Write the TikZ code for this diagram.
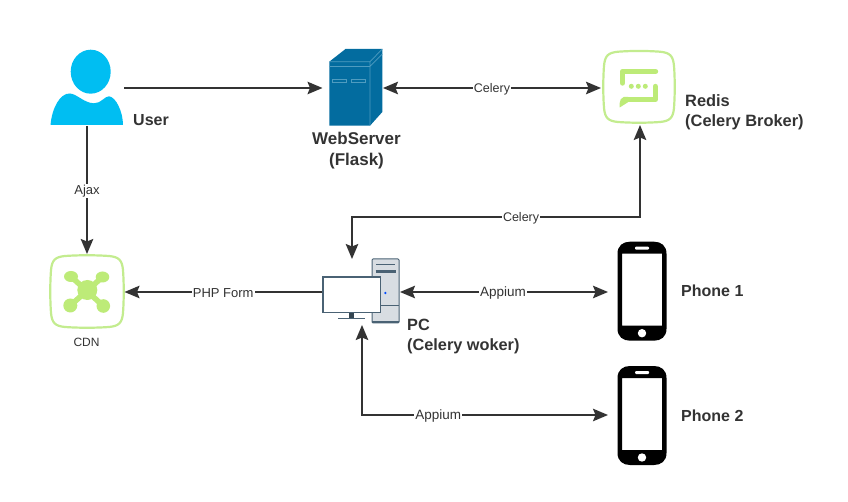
\documentclass[tikz,border=0pt]{standalone}
\usepackage{fontspec}
\setmainfont{Liberation Sans}
\usetikzlibrary{arrows.meta}
\definecolor{ink}{HTML}{333333}
\definecolor{lime}{HTML}{C3EC8F}
\definecolor{limeicon}{HTML}{BDEB78}
\definecolor{userblue}{HTML}{00BEF2}
\definecolor{srv}{HTML}{036C9F}
\definecolor{srvl}{HTML}{4F9CC0}
\definecolor{pcline}{HTML}{4A6274}
\definecolor{pcfill}{HTML}{D8DDE2}
\tikzset{
  x=1pt,y=-1pt,
  slot/.style={inner sep=0pt,outer sep=0pt,minimum width=#1},
  flow/.style={draw=ink,line width=1.8pt,-{Stealth[length=15pt,width=12.5pt,inset=2.5pt]}},
  bothflow/.style={draw=ink,line width=1.8pt,{Stealth[length=15pt,width=12.5pt,inset=2.5pt]}-{Stealth[length=15pt,width=12.5pt,inset=2.5pt]}},
  tag/.style={fill=white,inner sep=1pt,font=\fontsize{13}{15}\selectfont,text=ink,yshift=-1pt},
  big/.style={font=\bfseries\fontsize{16}{20}\selectfont,text=ink,align=left,inner sep=0pt},
  squircle/.style={draw=lime,line width=2.2pt,fill=white}
}
\newcommand{\squirc}[4]{% x0 y0 x1 y1
  \path[squircle] (#1+14,#2) .. controls (#1+28,#2-1) and (#3-28,#2-1) .. (#3-14,#2)
    .. controls (#3-4,#2+1) and (#3-1,#2+4) .. (#3,#2+14)
    .. controls (#3+1,#2+28) and (#3+1,#4-28) .. (#3,#4-14)
    .. controls (#3-1,#4-4) and (#3-4,#4-1) .. (#3-14,#4)
    .. controls (#3-28,#4+1) and (#1+28,#4+1) .. (#1+14,#4)
    .. controls (#1+4,#4-1) and (#1+1,#4-4) .. (#1,#4-14)
    .. controls (#1-1,#4-28) and (#1-1,#2+28) .. (#1,#2+14)
    .. controls (#1+1,#2+4) and (#1+4,#2+1) .. (#1+14,#2) -- cycle;}
\newcommand{\phoneicon}[1]{% #1 top y
  \begin{scope}[yshift=-#1pt]
  \fill[black,even odd rule] (617.5,12) .. controls (617.5,4) and (623,0) .. (630,0) -- (654,0)
     .. controls (661,0) and (666.5,4) .. (666.5,12) -- (666.5,87) .. controls (666.5,95) and (661,99) .. (654,99)
     -- (630,99) .. controls (623,99) and (617.5,95) .. (617.5,87) -- cycle
     (622,12) rectangle (662,84);
  \fill[white] (642,91.5) circle (4.2);
  \fill[white,rounded corners=1pt] (635,5) rectangle (649,8);
  \end{scope}}
\begin{document}
\begin{tikzpicture}
\useasboundingbox (0,0) rectangle (848,502);
% --- icons
\fill[userblue] (90.7,71.7) ellipse [x radius=20,y radius=22];
\fill[userblue] (50.5,125) .. controls (52,108) and (60,93) .. (70,93.5)
  .. controls (77,94) and (84,103) .. (94,103.3)
  .. controls (101,103.5) and (105,96) .. (109,96.3)
  .. controls (116,97) and (123,112) .. (123,125) -- cycle;
% server
\fill[srv] (329.3,61.7) -- (345.5,49) -- (382.3,49) -- (382.3,112) -- (370,125.7) -- (329.3,125.7) -- cycle;
\draw[srvl,line width=.7pt] (329.3,61.7) -- (370,61.7) -- (382.3,49) (370,61.7) -- (370,125.7)
  (329.3,66.5) -- (370,66.5) -- (382.3,54)
  (332.5,79.5) rectangle (346.5,82.5) (351.5,79.5) rectangle (365.5,82.5);
% redis
\squirc{604}{51.7}{674}{122}
\draw[limeicon,line width=5.4pt,line cap=round,line join=round] (655.5,71.5) -- (622.5,71.5) -- (622.5,83);
\fill[limeicon] (631.3,86.3) circle (2.5) (638.3,86.3) circle (2.5) (645.3,86.3) circle (2.5);
\draw[limeicon,line width=5.4pt,line cap=round,line join=round] (655.3,86.5) -- (655.3,99.5) -- (627,99.5);
\fill[limeicon] (628,96.8) -- (624,96.8) .. controls (621,98) and (619.7,100) .. (619.7,103) -- (619.7,107.5) -- (628,102.2) -- cycle;
% cdn
\squirc{51}{256}{123}{327}
\fill[limeicon] (87.3,290) circle (10) (71,276.5) ellipse [x radius=7,y radius=5.5]
  (102.5,277) ellipse [x radius=6.8,y radius=5.5]
  (70.3,305.5) circle (7) (103.3,306) circle (6.8);
\draw[limeicon,line width=5.5pt] (71,276.5) -- (103.3,306) (102.5,277) -- (70.3,305.5);
% pc
\draw[pcline,fill=pcfill,line width=1pt,rounded corners=1pt] (372,259) rectangle (399,323);
\fill[pcline] (372,321) rectangle (399,323.4);
\draw[pcline,line width=.9pt] (376,264) -- (395,264) (372,305.5) -- (399,305.5);
\draw[pcline,line width=2.4pt] (375.5,271.5) -- (395.5,271.5);
\fill[blue!70!cyan] (385.3,293) circle (1.3);
\draw[pcline,fill=white,line width=1.2pt] (323,277) rectangle (380.3,312.5);
\fill[pcline!70!black] (348.5,313) rectangle (354,318);
\draw[pcline,line width=1.4pt] (338,318.5) -- (365,318.5);
% phones
\phoneicon{241.7}
\phoneicon{366}
% --- named anchors for connectors
\node[slot=73pt,minimum height=76pt] (user) at (87,88) {};
\node[slot=53pt,minimum height=77pt] (web) at (356,87.5) {};
\node[slot=70pt,minimum height=70pt] (redis) at (639,87) {};
\node[slot=72pt,minimum height=71pt] (cdn) at (87,291.5) {};
\node[slot=78pt,minimum height=66pt] (pc) at (361,292) {};
\node[slot=49pt,minimum height=99pt] (ph1) at (642,291) {};
\node[slot=49pt,minimum height=99pt] (ph2) at (642,415.5) {};
\coordinate (uo) at (124,88);
\coordinate (wi) at (322.5,88);
\coordinate (wo) at (383,88);
\coordinate (ri) at (601,88);
\coordinate (rb) at (640,125);
\coordinate (pt) at (352,259);
\coordinate (pb) at (362,325);
\coordinate (pe) at (400,292);
\coordinate (pw) at (322,292);
\coordinate (ci) at (124.5,292);
\coordinate (p1) at (608,292);
\coordinate (p2) at (608,415);
% --- connectors
\draw[flow] (uo) -- (wi);
\draw[bothflow] (wo) -- node[tag,font=\fontsize{12.5}{15}\selectfont]{Celery} (ri);
\draw[flow] (user.south) -- node[tag,pos=.5]{Ajax} ([yshift=2pt]cdn.north);
\draw[bothflow] (rb) -- (640,217) -- node[tag,pos=.413,font=\fontsize{12.5}{15}\selectfont]{Celery} (352,217) -- (pt);
\draw[flow] (pw) -- node[tag,pos=.5]{PHP Form} (ci);
\draw[bothflow] (pe) -- node[tag,pos=.495,font=\fontsize{13.5}{15}\selectfont]{Appium} (p1);
\draw[bothflow] (pb) -- (362,415) -- node[tag,pos=.31,font=\fontsize{13.5}{15}\selectfont]{Appium} (p2);
% --- labels
\node[big,anchor=west] (userl) at (133,120) {User};
\node[big,align=center,anchor=north,font=\bfseries\fontsize{17}{21}\selectfont] (webl) at (356.5,131.5) {WebServer\\(Flask)};
\node[big,anchor=north west,font=\bfseries\fontsize{16.4}{20}\selectfont] (redisl) at (685,94) {Redis\\(Celery Broker)};
\node[anchor=north,font=\fontsize{12}{14}\selectfont,text=ink,inner sep=0pt] (cdnl) at (86.5,337.5) {CDN};
\node[big,anchor=north west,font=\bfseries\fontsize{16.3}{20}\selectfont] (pcl) at (407,319) {PC\\(Celery woker)};
\node[big,anchor=west] (ph1l) at (681,290.5) {Phone 1};
\node[big,anchor=west] (ph2l) at (681,415.5) {Phone 2};
\end{tikzpicture}
\end{document}
